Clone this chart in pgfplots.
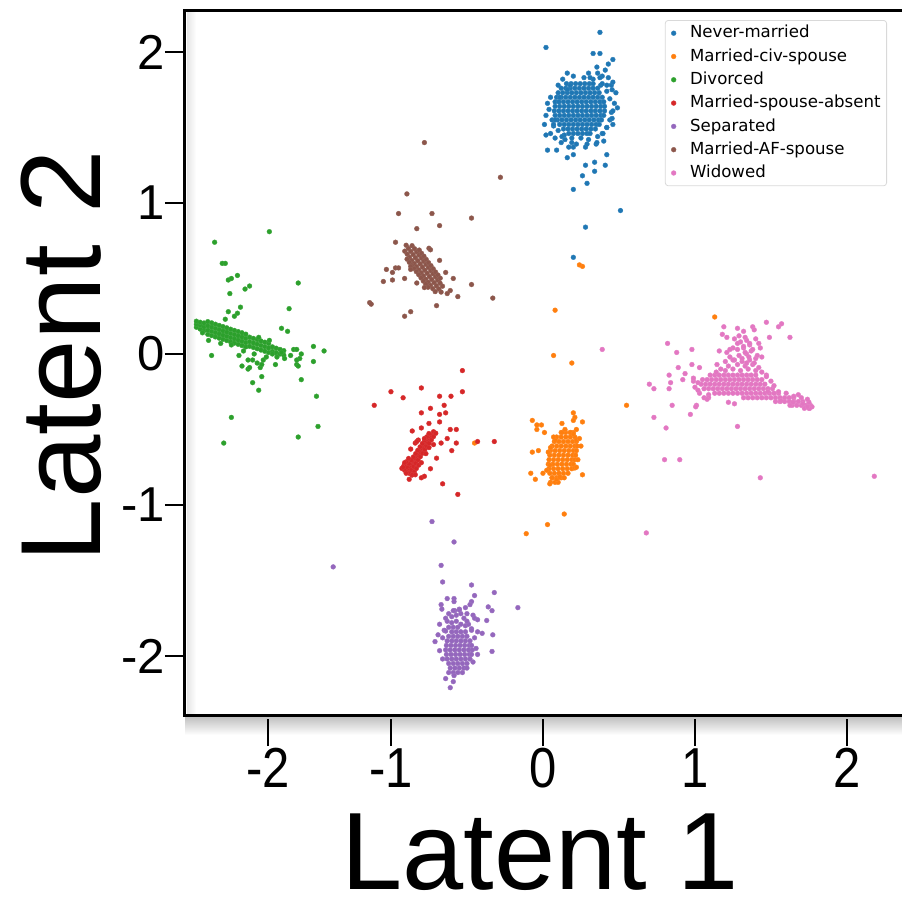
\documentclass[border=0pt]{standalone}
\usepackage{pgfplots}
\pgfplotsset{compat=1.18}
\usepackage{fontspec}
\setmainfont{Liberation Sans}
\newfontfamily\dejavu{DejaVu Sans}
\definecolor{c0}{HTML}{1F77B4}
\definecolor{c1}{HTML}{FF7F0E}
\definecolor{c2}{HTML}{2CA02C}
\definecolor{c3}{HTML}{D62728}
\definecolor{c4}{HTML}{9467BD}
\definecolor{c5}{HTML}{8C564B}
\definecolor{c6}{HTML}{E377C2}
\pgfplotsset{
  pt/.style={only marks, mark=*, mark size=1.2pt, color=#1, mark options={fill=#1, draw=#1!92!white, line width=0.2pt}},
}
\begin{document}
\begin{tikzpicture}
\useasboundingbox (0,0) rectangle (451pt,451pt);
% soft shadow of the frame
\shade[top color=black!25, bottom color=white] (92.5pt,83.5pt) rectangle (451pt,92.75pt);
\shade[left color=black!10, right color=white] (93.5pt,93.5pt) rectangle (98pt,446pt);
\begin{axis}[
  at={(92.5pt,93.5pt)}, anchor=south west,
  scale only axis, width=360pt, height=352.5pt,
  xmin=-2.355, xmax=2.382, ymin=-2.391, ymax=2.278,
  axis line style={line width=1.5pt},
  tick align=outside, xtick pos=lower, ytick pos=left,
  major tick length=10pt,
  xtick={-1.81,-1,0,1,2},
  xticklabels={\mbox{-2},\mbox{-1},\mbox{0},\mbox{1},\mbox{2}},
  ytick={-2,-1,0,1,2},
  yticklabels={\mbox{-2},\mbox{-1},\mbox{0},\mbox{1},\mbox{2}},
  tick style={line width=1pt, black},
  x tick style={/pgfplots/major tick length=13.5pt, yshift=-2pt},
  tick label style={font=\fontsize{24.5}{24.5}\selectfont},
  yticklabel style={inner xsep=0pt},
  xticklabel style={inner ysep=0pt, yshift=-6.5pt, yscale=1.15},
  xlabel={Latent 1}, ylabel={Latent 2},
  every axis x label/.style={at={(axis description cs:0.493,-0.2475)}, anchor=base, font=\fontsize{55}{55}\selectfont},
  every axis y label/.style={at={(axis description cs:-0.118,0.509)}, rotate=90, anchor=base, font=\fontsize{57}{57}\selectfont},
  legend style={at={(1,1)}, anchor=north east, xshift=-9pt, yshift=-5pt,
    font=\dejavu\fontsize{8.3}{10}\selectfont, draw=black!15, rounded corners=1.5pt,
    inner xsep=3pt, inner ysep=2.5pt, row sep=3.85pt, column sep=7pt,
    nodes={inner sep=0pt, text height=6.2pt, text depth=1.6pt}},
  legend cell align=left,
]
% Never-married
\addplot[pt=c0] coordinates {
(0.17,1.46)(0.20,1.46)(0.23,1.46)(0.26,1.46)(0.29,1.46)(0.31,1.46)
(0.135,1.49)(0.165,1.49)(0.195,1.49)(0.225,1.49)(0.255,1.49)(0.285,1.49)(0.315,1.49)(0.345,1.49)
(0.11,1.52)(0.14,1.52)(0.17,1.52)(0.20,1.52)(0.23,1.52)(0.26,1.52)(0.29,1.52)(0.32,1.52)(0.35,1.52)(0.37,1.52)
(0.095,1.55)(0.125,1.55)(0.155,1.55)(0.185,1.55)(0.215,1.55)(0.245,1.55)(0.275,1.55)(0.305,1.55)(0.335,1.55)(0.365,1.55)(0.385,1.55)
(0.08,1.58)(0.11,1.58)(0.14,1.58)(0.17,1.58)(0.20,1.58)(0.23,1.58)(0.26,1.58)(0.29,1.58)(0.32,1.58)(0.35,1.58)(0.38,1.58)(0.40,1.58)
(0.075,1.61)(0.105,1.61)(0.135,1.61)(0.165,1.61)(0.195,1.61)(0.225,1.61)(0.255,1.61)(0.285,1.61)(0.315,1.61)(0.345,1.61)(0.375,1.61)(0.405,1.61)
(0.08,1.64)(0.11,1.64)(0.14,1.64)(0.17,1.64)(0.20,1.64)(0.23,1.64)(0.26,1.64)(0.29,1.64)(0.32,1.64)(0.35,1.64)(0.38,1.64)(0.405,1.64)
(0.08,1.67)(0.105,1.67)(0.135,1.67)(0.165,1.67)(0.195,1.67)(0.225,1.67)(0.255,1.67)(0.285,1.67)(0.315,1.67)(0.345,1.67)(0.375,1.67)(0.40,1.67)
(0.09,1.70)(0.12,1.70)(0.15,1.70)(0.18,1.70)(0.21,1.70)(0.24,1.70)(0.27,1.70)(0.30,1.70)(0.33,1.70)(0.36,1.70)(0.39,1.70)
(0.10,1.73)(0.13,1.73)(0.16,1.73)(0.19,1.73)(0.22,1.73)(0.25,1.73)(0.28,1.73)(0.31,1.73)(0.34,1.73)(0.37,1.73)
(0.12,1.76)(0.15,1.76)(0.18,1.76)(0.21,1.76)(0.24,1.76)(0.27,1.76)(0.30,1.76)(0.33,1.76)(0.36,1.76)
(0.155,1.79)(0.185,1.79)(0.215,1.79)(0.245,1.79)(0.275,1.79)(0.305,1.79)(0.33,1.79)
(0.05,1.70)(0.04,1.62)(0.06,1.55)(0.02,1.58)(0.10,1.78)(0.13,1.82)(0.20,1.84)(0.27,1.83)(0.33,1.82)(0.38,1.78)
(0.42,1.74)(0.44,1.69)(0.45,1.60)(0.44,1.55)(0.42,1.50)(0.39,1.46)(0.36,1.44)(0.30,1.42)(0.25,1.43)(0.19,1.43)
(0.14,1.45)(0.10,1.48)(0.07,1.51)(0.03,1.66)(0.47,1.66)(0.46,1.52)(0.12,1.40)(0.08,1.43)(0.40,1.41)(0.35,1.39)
(0.22,1.39)(0.17,1.37)(0.48,1.73)(0.45,1.78)(0.01,1.52)(0.05,1.46)(0.30,1.86)(0.16,1.86)(0.39,1.84)(0.43,1.83)
(0.375,2.13)(0.02,2.03)(0.33,1.99)(0.375,1.99)(0.46,1.95)(0.355,1.90)(0.36,1.86)(0.41,1.88)(0.43,1.92)(0.46,1.80)
(0.49,1.63)(0.02,1.45)(0.03,1.35)(0.09,1.35)(0.16,1.30)(0.20,1.32)(0.28,1.25)(0.34,1.27)(0.41,1.25)(0.26,1.18)
(0.34,1.21)(0.29,1.13)(0.20,1.09)(0.42,1.32)(0.51,0.95)(0.28,0.84)(0.20,0.64)
(0.08,1.55)(0.07,1.52)(0.125,1.44)(0.145,1.42)(0.19,1.40)(0.20,1.37)(0.28,1.37)(0.29,1.39)(0.355,1.40)(0.395,1.46)
(0.42,1.50)(0.455,1.56)(0.46,1.61)(0.455,1.75)(0.42,1.78)(0.39,1.79)(0.18,1.78)(0.16,1.75)(0.11,1.70)(0.375,1.83)(0.31,1.83)
};
\addlegendentry{Never-married}
% Married-civ-spouse
\addplot[pt=c1] coordinates {
(0.12,-0.52)(0.15,-0.52)(0.18,-0.52)(0.20,-0.52)
(0.09,-0.55)(0.12,-0.55)(0.15,-0.55)(0.18,-0.55)(0.21,-0.55)
(0.075,-0.58)(0.105,-0.58)(0.135,-0.58)(0.165,-0.58)(0.195,-0.58)(0.22,-0.58)
(0.06,-0.61)(0.09,-0.61)(0.12,-0.61)(0.15,-0.61)(0.18,-0.61)(0.21,-0.61)(0.225,-0.61)
(0.05,-0.64)(0.08,-0.64)(0.11,-0.64)(0.14,-0.64)(0.17,-0.64)(0.20,-0.64)(0.22,-0.64)
(0.045,-0.67)(0.075,-0.67)(0.105,-0.67)(0.135,-0.67)(0.165,-0.67)(0.195,-0.67)(0.215,-0.67)
(0.04,-0.70)(0.07,-0.70)(0.10,-0.70)(0.13,-0.70)(0.16,-0.70)(0.19,-0.70)(0.21,-0.70)
(0.035,-0.73)(0.065,-0.73)(0.095,-0.73)(0.125,-0.73)(0.155,-0.73)(0.185,-0.73)(0.20,-0.73)
(0.04,-0.76)(0.07,-0.76)(0.10,-0.76)(0.13,-0.76)(0.16,-0.76)(0.19,-0.76)
(0.045,-0.79)(0.075,-0.79)(0.105,-0.79)(0.135,-0.79)(0.165,-0.79)
(0.06,-0.82)(0.09,-0.82)(0.12,-0.82)(0.14,-0.82)
(0.05,-0.85)(0.08,-0.85)(0.10,-0.85)
(0.08,-0.57)(0.05,-0.62)(0.035,-0.65)(0.045,-0.735)(0.025,-0.77)(0.22,-0.57)(0.24,-0.56)(0.21,-0.755)(0.22,-0.75)
(0.125,-0.52)(0.145,-0.50)(0.18,-0.52)(0.20,-0.53)(0.07,-0.55)(0.06,-0.82)(0.09,-0.83)(0.11,-0.815)(0.045,-0.86)
(0.55,-0.34)(-0.07,-0.44)(-0.04,-0.47)(-0.01,-0.47)(-0.04,-0.50)(0.01,-0.52)(0.125,-0.46)(0.20,-0.39)(0.21,-0.42)(0.20,-0.44)
(0.26,-0.45)(0.22,-0.50)(-0.07,-0.65)(-0.03,-0.64)(0.25,-0.61)(0.23,-0.70)(-0.08,-0.79)(-0.05,-0.83)(0.0,-0.79)(0.26,-0.80)
(0.14,-1.06)(0.03,-1.13)(-0.11,-1.19)(0.07,-0.01)(0.08,0.29)(0.19,-0.06)(0.26,0.58)(0.24,0.59)(-0.45,-0.59)(1.13,0.245)
};
\addlegendentry{Married-civ-spouse}
% Divorced
\addplot[pt=c2] coordinates {
(-2.28,0.177)(-2.28,0.197)(-2.28,0.217)
(-2.255,0.165)(-2.255,0.19)(-2.255,0.21)
(-2.23,0.155)(-2.23,0.18)(-2.23,0.205)
(-2.205,0.13)(-2.205,0.158)(-2.205,0.186)(-2.205,0.214)
(-2.18,0.122)(-2.18,0.15)(-2.18,0.178)(-2.18,0.206)
(-2.155,0.113)(-2.155,0.141)(-2.155,0.169)(-2.155,0.197)
(-2.13,0.105)(-2.13,0.133)(-2.13,0.161)(-2.13,0.189)
(-2.105,0.097)(-2.105,0.125)(-2.105,0.153)(-2.105,0.181)
(-2.08,0.089)(-2.08,0.117)(-2.08,0.145)(-2.08,0.173)
(-2.055,0.08)(-2.055,0.108)(-2.055,0.136)(-2.055,0.164)
(-2.03,0.072)(-2.03,0.10)(-2.03,0.128)(-2.03,0.156)
(-2.005,0.064)(-2.005,0.092)(-2.005,0.12)(-2.005,0.148)
(-1.98,0.056)(-1.98,0.084)(-1.98,0.112)(-1.98,0.14)
(-1.955,0.047)(-1.955,0.075)(-1.955,0.103)(-1.955,0.131)
(-1.93,0.051)(-1.93,0.081)(-1.93,0.111)
(-1.905,0.043)(-1.905,0.073)(-1.905,0.103)
(-1.88,0.035)(-1.88,0.065)(-1.88,0.095)
(-1.855,0.026)(-1.855,0.056)(-1.855,0.086)
(-1.83,0.018)(-1.83,0.048)(-1.83,0.078)
(-1.805,0.01)(-1.805,0.04)(-1.805,0.07)
(-1.78,0.017)(-1.78,0.047)(-1.755,0.008)(-1.755,0.038)(-1.73,0.0)(-1.73,0.03)(-1.705,-0.008)(-1.705,0.022)
(-1.80,0.81)(-2.16,0.74)(-2.11,0.60)(-2.09,0.60)(-2.07,0.49)(-2.05,0.50)(-2.01,0.52)(-2.06,0.40)(-1.96,0.43)(-1.93,0.45)
(-1.61,0.47)(-1.99,0.31)(-2.07,0.28)(-2.01,0.27)(-2.03,0.25)(-2.09,0.23)(-1.67,0.30)(-1.72,0.17)(-1.68,0.15)(-2.18,-0.01)
(-2.05,0.06)(-2.0,-0.01)(-1.94,-0.04)(-1.91,-0.04)(-1.88,-0.06)(-1.86,-0.09)(-1.98,-0.08)(-1.94,-0.10)(-1.93,-0.09)(-1.84,-0.04)
(-1.85,-0.07)(-1.91,-0.19)(-1.85,-0.15)(-1.87,-0.24)(-1.76,-0.07)(-1.78,0.0)(-1.72,0.01)(-1.64,0.03)(-1.62,0.03)(-1.59,0.0)
(-1.60,-0.03)(-1.62,-0.04)(-1.62,-0.07)(-1.61,-0.08)(-1.51,0.05)(-1.44,0.02)(-1.51,-0.05)(-1.59,-0.17)(-1.49,-0.28)(-1.48,-0.48)
(-2.05,-0.42)(-2.10,-0.59)(-1.61,-0.55)
(-2.12,0.07)(-1.97,0.02)(-1.90,0.0)(-1.82,-0.02)(-1.75,-0.02)(-1.70,-0.03)(-1.66,-0.01)(-2.24,0.14)(-2.20,0.09)(-1.87,0.11)(-1.80,0.09)
};
\addlegendentry{Divorced}
% Married-spouse-absent
\addplot[pt=c3] coordinates {
(-0.895,-0.780)(-0.880,-0.790)(-0.910,-0.770)(-0.862,-0.802)(-0.928,-0.758)
(-0.880,-0.758)(-0.865,-0.768)(-0.895,-0.748)(-0.847,-0.780)(-0.913,-0.736)
(-0.866,-0.736)(-0.851,-0.746)(-0.881,-0.726)(-0.833,-0.758)(-0.899,-0.714)
(-0.851,-0.714)(-0.836,-0.724)(-0.866,-0.704)(-0.818,-0.736)(-0.884,-0.692)
(-0.837,-0.692)(-0.822,-0.702)(-0.852,-0.682)
(-0.822,-0.670)(-0.807,-0.680)(-0.837,-0.660)
(-0.808,-0.648)(-0.793,-0.658)(-0.823,-0.638)
(-0.793,-0.625)(-0.778,-0.635)(-0.808,-0.615)
(-0.778,-0.603)(-0.763,-0.613)(-0.793,-0.593)
(-0.764,-0.581)(-0.749,-0.591)(-0.779,-0.571)
(-0.749,-0.559)(-0.734,-0.569)(-0.764,-0.549)
(-0.735,-0.537)(-0.720,-0.547)(-0.750,-0.527)
(-0.720,-0.515)(-0.705,-0.525)
(-0.87,-0.63)(-0.84,-0.59)(-0.82,-0.57)(-0.78,-0.56)(-0.75,-0.62)(-0.77,-0.66)(-0.80,-0.72)(-0.86,-0.80)(-0.91,-0.72)(-0.88,-0.83)(-0.84,-0.80)
(-0.53,-0.11)(-1.0,-0.25)(-0.80,-0.225)(-0.92,-0.29)(-1.11,-0.34)(-0.68,-0.28)(-0.605,-0.28)(-0.53,-0.25)(-0.80,-0.39)(-0.74,-0.36)
(-0.68,-0.40)(-0.65,-0.34)(-0.64,-0.39)(-0.68,-0.45)(-0.75,-0.46)(-0.86,-0.51)(-0.80,-0.49)(-0.61,-0.50)(-0.57,-0.50)(-0.63,-0.56)
(-0.67,-0.59)(-0.72,-0.60)(-0.57,-0.59)(-0.83,-0.58)(-0.43,-0.58)(-0.32,-0.58)(-0.60,-0.64)(-0.70,-0.69)(-0.74,-0.76)(-0.92,-0.75)
(-0.90,-0.79)(-0.80,-0.82)(-0.78,-0.81)(-0.66,-0.86)(-0.56,-0.93)
};
\addlegendentry{Married-spouse-absent}
% Separated
\addplot[pt=c4] coordinates {
(-0.60,-1.84)(-0.57,-1.84)(-0.54,-1.84)(-0.51,-1.84)
(-0.62,-1.87)(-0.59,-1.87)(-0.56,-1.87)(-0.53,-1.87)(-0.50,-1.87)
(-0.63,-1.90)(-0.60,-1.90)(-0.57,-1.90)(-0.54,-1.90)(-0.51,-1.90)(-0.48,-1.90)
(-0.635,-1.93)(-0.605,-1.93)(-0.575,-1.93)(-0.545,-1.93)(-0.515,-1.93)(-0.485,-1.93)(-0.47,-1.93)
(-0.64,-1.96)(-0.61,-1.96)(-0.58,-1.96)(-0.55,-1.96)(-0.52,-1.96)(-0.49,-1.96)(-0.465,-1.96)
(-0.635,-1.99)(-0.605,-1.99)(-0.575,-1.99)(-0.545,-1.99)(-0.515,-1.99)(-0.485,-1.99)(-0.47,-1.99)
(-0.63,-2.02)(-0.60,-2.02)(-0.57,-2.02)(-0.54,-2.02)(-0.51,-2.02)(-0.48,-2.02)
(-0.62,-2.05)(-0.59,-2.05)(-0.56,-2.05)(-0.53,-2.05)(-0.50,-2.05)
(-0.61,-2.08)(-0.58,-2.08)(-0.55,-2.08)(-0.52,-2.08)(-0.50,-2.08)
(-0.59,-2.11)(-0.56,-2.11)(-0.53,-2.11)
(-0.62,-1.72)(-0.60,-1.74)(-0.57,-1.73)(-0.54,-1.72)(-0.52,-1.75)(-0.63,-1.77)(-0.60,-1.78)(-0.57,-1.77)(-0.54,-1.79)(-0.51,-1.80)
(-0.49,-1.79)(-0.62,-1.81)(-0.59,-1.81)(-0.56,-1.81)(-0.65,-1.83)(-0.47,-1.82)(-0.58,-1.70)(-0.55,-1.69)(-0.50,-1.72)(-0.46,-1.73)
(-0.64,-1.75)(-0.66,-1.88)(-0.45,-1.88)(-0.44,-1.95)(-0.66,-2.02)(-0.46,-2.04)
(-0.585,-1.245)(-0.67,-1.40)(-0.66,-1.51)(-0.47,-1.53)(-0.32,-1.58)(-0.45,-1.60)(-0.63,-1.62)(-0.585,-1.62)(-0.585,-1.64)(-0.47,-1.64)
(-0.48,-1.66)(-0.67,-1.66)(-0.665,-1.69)(-0.36,-1.675)(-0.335,-1.70)(-0.165,-1.68)(-0.59,-1.70)(-0.55,-1.695)(-0.51,-1.68)(-0.45,-1.75)
(-0.43,-1.76)(-0.37,-1.765)(-0.68,-1.79)(-0.50,-1.77)(-0.47,-1.83)(-0.43,-1.84)(-0.40,-1.85)(-0.64,-1.835)(-0.69,-1.86)(-0.71,-1.905)
(-0.33,-1.86)(-0.335,-1.97)(-0.68,-1.965)(-0.43,-1.99)(-0.62,-2.11)(-0.585,-2.13)(-0.64,-2.15)(-0.59,-2.17)(-0.61,-2.21)(-1.38,-1.41)(-0.73,-1.11)
};
\addlegendentry{Separated}
% Married-AF-spouse
\addplot[pt=c5] coordinates {
(-0.900,0.720)
(-0.885,0.699)(-0.909,0.681)(-0.861,0.717)
(-0.869,0.679)(-0.893,0.661)(-0.845,0.697)
(-0.854,0.658)(-0.878,0.640)(-0.830,0.676)(-0.894,0.628)(-0.814,0.688)
(-0.839,0.637)(-0.863,0.619)(-0.815,0.655)(-0.879,0.607)(-0.799,0.667)
(-0.823,0.617)(-0.847,0.599)(-0.799,0.635)(-0.863,0.587)(-0.783,0.647)
(-0.808,0.596)(-0.832,0.578)(-0.784,0.614)(-0.848,0.566)(-0.768,0.626)
(-0.793,0.575)(-0.817,0.557)(-0.769,0.593)(-0.833,0.545)(-0.753,0.605)
(-0.777,0.555)(-0.801,0.537)(-0.753,0.573)(-0.817,0.525)(-0.737,0.585)
(-0.762,0.534)(-0.786,0.516)(-0.738,0.552)(-0.802,0.504)(-0.722,0.564)
(-0.747,0.513)(-0.771,0.495)(-0.723,0.531)(-0.787,0.483)(-0.707,0.543)
(-0.731,0.493)(-0.755,0.475)(-0.707,0.511)(-0.771,0.463)(-0.691,0.523)
(-0.716,0.472)(-0.740,0.454)(-0.692,0.490)(-0.756,0.442)(-0.676,0.502)
(-0.701,0.451)(-0.725,0.433)(-0.677,0.469)
(-0.685,0.431)(-0.709,0.413)(-0.661,0.449)
(-0.670,0.410)
(-0.895,1.06)(-0.95,0.93)(-0.73,0.93)(-0.47,0.90)(-0.68,0.85)(-0.83,0.83)(-0.97,0.74)(-0.75,0.70)(-0.74,0.69)(-1.03,0.56)
(-0.99,0.54)(-0.97,0.57)(-0.95,0.57)(-0.87,0.58)(-0.87,0.56)(-1.05,0.48)(-0.99,0.49)(-0.91,0.50)(-0.83,0.47)(-0.78,0.44)
(-0.68,0.62)(-0.64,0.54)(-0.59,0.50)(-0.61,0.42)(-0.63,0.40)(-0.56,0.38)(-0.47,0.46)(-0.33,0.37)(-0.70,0.32)(-0.87,0.28)
(-0.91,0.25)(-1.14,0.34)(-1.13,0.33)(-0.78,1.40)(-0.28,1.17)
};
\addlegendentry{Married-AF-spouse}
% Widowed
\addplot[pt=c6] coordinates {
(1.10,-0.14)(1.13,-0.14)(1.16,-0.14)(1.19,-0.14)(1.22,-0.14)(1.25,-0.14)(1.28,-0.14)(1.31,-0.14)(1.34,-0.14)(1.37,-0.14)(1.40,-0.14)
(1.05,-0.17)(1.08,-0.17)(1.11,-0.17)(1.14,-0.17)(1.17,-0.17)(1.20,-0.17)(1.23,-0.17)(1.26,-0.17)(1.29,-0.17)(1.32,-0.17)(1.35,-0.17)(1.38,-0.17)(1.41,-0.17)(1.44,-0.17)
(1.04,-0.20)(1.07,-0.20)(1.10,-0.20)(1.13,-0.20)(1.16,-0.20)(1.19,-0.20)(1.22,-0.20)(1.25,-0.20)(1.28,-0.20)(1.31,-0.20)(1.34,-0.20)(1.37,-0.20)(1.40,-0.20)(1.43,-0.20)(1.46,-0.20)
(1.06,-0.23)(1.09,-0.23)(1.12,-0.23)(1.15,-0.23)(1.18,-0.23)(1.21,-0.23)(1.24,-0.23)(1.27,-0.23)(1.30,-0.23)(1.33,-0.23)(1.36,-0.23)(1.39,-0.23)(1.42,-0.23)(1.45,-0.23)(1.48,-0.23)(1.51,-0.23)
(1.13,-0.26)(1.16,-0.26)(1.19,-0.26)(1.22,-0.26)(1.25,-0.26)(1.28,-0.26)(1.31,-0.26)(1.34,-0.26)(1.37,-0.26)(1.40,-0.26)(1.43,-0.26)(1.46,-0.26)(1.49,-0.26)(1.52,-0.26)(1.55,-0.26)
(1.32,-0.29)(1.35,-0.29)(1.38,-0.29)(1.41,-0.29)(1.44,-0.29)(1.47,-0.29)(1.50,-0.29)(1.53,-0.29)(1.56,-0.29)(1.59,-0.29)(1.62,-0.29)(1.65,-0.29)
(1.53,-0.315)(1.56,-0.315)(1.59,-0.315)(1.62,-0.315)(1.65,-0.315)(1.68,-0.315)(1.71,-0.315)
(1.64,-0.34)(1.67,-0.34)(1.70,-0.34)(1.73,-0.34)(1.76,-0.34)(1.72,-0.36)(1.75,-0.36)
(1.20,-0.11)(1.25,-0.10)(1.30,-0.11)(1.35,-0.10)(1.40,-0.11)(1.44,-0.12)(1.22,-0.08)(1.28,-0.07)(1.33,-0.08)(1.38,-0.07)
(1.42,-0.09)(1.26,-0.04)(1.31,-0.05)(1.36,-0.04)(1.40,-0.03)(1.23,-0.02)(1.29,-0.01)(1.34,0.0)(1.37,0.02)(1.25,0.04)
(1.32,0.04)(1.36,0.06)(1.30,0.08)(1.34,0.09)(1.26,0.10)(1.40,0.10)(1.43,0.04)(1.44,-0.02)(1.17,-0.10)(1.14,-0.12)
(0.99,-0.18)(1.0,-0.22)(1.03,-0.26)(1.06,-0.29)(1.09,-0.27)(1.50,-0.18)(1.52,-0.21)(1.47,-0.14)(1.55,-0.25)(1.60,-0.26)
(1.65,-0.28)(1.70,-0.29)(1.71,-0.33)(1.75,-0.32)(1.77,-0.35)
(1.19,0.18)(1.28,0.17)(1.32,0.15)(1.38,0.18)(1.39,0.16)(1.47,0.21)(1.55,0.18)(1.57,0.20)(1.18,0.13)(1.21,0.11)
(1.29,0.12)(1.33,0.11)(1.49,0.11)(1.625,0.11)(1.28,0.07)(1.32,0.05)(1.36,0.07)(1.42,0.07)(0.82,0.07)(0.98,0.03)
(0.88,0.01)(1.16,0.02)(1.21,0.01)(1.23,0.03)(1.28,0.03)(1.33,0.01)(1.38,0.03)(1.41,-0.01)(1.20,-0.05)(1.25,-0.04)
(1.31,-0.03)(1.355,-0.02)(1.39,-0.06)(1.34,-0.06)(0.98,-0.07)(1.03,-0.09)(1.145,-0.07)(0.89,-0.09)(0.935,-0.13)(0.92,-0.17)
(0.83,-0.14)(0.84,-0.19)(0.70,-0.20)(0.73,-0.23)(0.83,-0.23)(0.99,-0.16)(1.02,-0.19)(1.02,-0.24)(1.09,-0.29)(1.08,-0.30)
(1.01,-0.34)(1.005,-0.35)(0.85,-0.34)(0.73,-0.42)(0.81,-0.49)(1.28,-0.48)(1.22,-0.32)(1.26,-0.33)(1.47,-0.15)(1.48,-0.25)
(1.68,-0.27)(1.74,-0.30)(1.755,-0.36)(1.74,-0.35)(1.625,-0.34)(1.645,-0.32)(1.565,-0.31)(0.39,0.03)(0.90,-0.70)(0.80,-0.70)
(0.68,-1.185)(1.43,-0.82)(2.18,-0.81)(0.97,-0.40)
};
\addlegendentry{Widowed}
\end{axis}
\end{tikzpicture}
\end{document}
